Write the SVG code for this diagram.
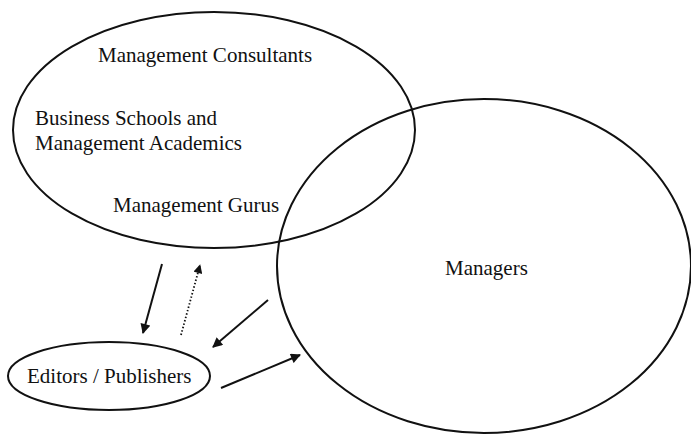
<svg xmlns="http://www.w3.org/2000/svg" width="691" height="434" viewBox="0 0 691 434">
  <style>
    .shape { fill: none; stroke: #111; stroke-width: 2; }
    .label { font-family: "Liberation Serif", "Times New Roman", serif; font-size: 21px; fill: #111; }
    .link { stroke: #111; stroke-width: 2; fill: none; }
    .dotted { stroke-dasharray: 1.5 2; stroke-width: 1.8; }
  </style>
  <defs>
    <marker id="arrow" viewBox="0 0 10 10" refX="9" refY="5" markerWidth="5.5" markerHeight="5" orient="auto" markerUnits="strokeWidth">
      <path d="M0,0 L10,5 L0,10 z" fill="#111"/>
    </marker>
  </defs>
  <rect width="691" height="434" fill="#fff"/>

  <g id="producers">
    <ellipse class="shape" cx="214" cy="130" rx="201" ry="118"/>
    <text class="label" x="98" y="62">Management Consultants</text>
    <text class="label" x="35" y="125">Business Schools and</text>
    <text class="label" x="35" y="150">Management Academics</text>
    <text class="label" x="113" y="212">Management Gurus</text>
  </g>

  <g id="managers">
    <ellipse class="shape" cx="484" cy="266" rx="207" ry="167"/>
    <text class="label" x="445" y="275">Managers</text>
  </g>

  <g id="editors">
    <ellipse class="shape" cx="109" cy="376" rx="101" ry="34"/>
    <text class="label" x="27" y="383">Editors / Publishers</text>
  </g>

  <g id="connectors">
    <line class="link" x1="162" y1="264" x2="143" y2="333" marker-end="url(#arrow)"/>
    <line class="link dotted" x1="181" y1="335" x2="200" y2="265" marker-end="url(#arrow)"/>
    <line class="link" x1="268" y1="300" x2="213" y2="347" marker-end="url(#arrow)"/>
    <line class="link" x1="221" y1="388" x2="300" y2="355" marker-end="url(#arrow)"/>
  </g>
</svg>
